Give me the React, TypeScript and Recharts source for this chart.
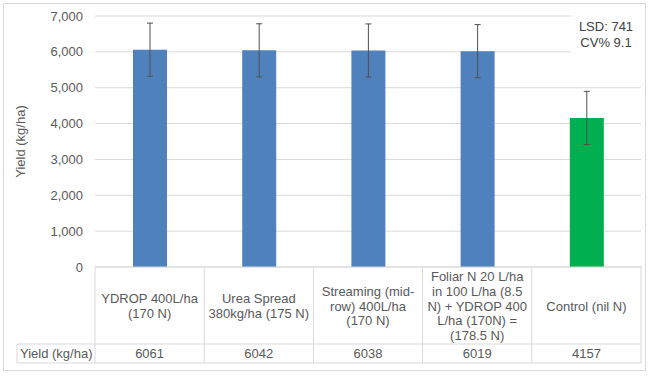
import React from 'react';
import { BarChart, Bar, XAxis, YAxis, CartesianGrid, Cell, ErrorBar } from 'recharts';

const categories = [
  'YDROP 400L/ha\n(170 N)',
  'Urea Spread\n380kg/ha (175 N)',
  'Streaming (mid-\nrow) 400L/ha\n(170 N)',
  'Foliar N 20 L/ha\nin 100 L/ha (8.5\nN) + YDROP 400\nL/ha (170N) =\n(178.5 N)',
  'Control (nil N)',
];
const yields = [6061, 6042, 6038, 6019, 4157];
const errors = [741, 741, 741, 741, 741];
const yTicks = [0, 1000, 2000, 3000, 4000, 5000, 6000, 7000];
const tableHeader = 'Yield (kg/ha)';
const statLines = ['LSD: 741', 'CV% 9.1'];

const barColors = ['#4f81bd', '#4f81bd', '#4f81bd', '#4f81bd', '#00b050'];

const data = categories.map((name, i) => ({ name, yield: yields[i], err: errors[i] }));

// layout
const W = 649;
const H = 377;
const PLOT_LEFT = 95;
const PLOT_RIGHT = 641;
const PLOT_TOP = 16;
const PLOT_BOTTOM = 267;
const ROW1_BOTTOM = 344;
const ROW2_BOTTOM = 363;
const HEADER_LEFT = 17;
const CELL_W = (PLOT_RIGHT - PLOT_LEFT) / categories.length;
const LINE = '#d9d9d9';
const TEXT = '#595959';
const FS = 13;

function TableTick(props: any) {
  const { x, payload, index } = props;
  const left = x - CELL_W / 2;
  const right = x + CELL_W / 2;
  const lines: string[] = String(payload.value).split('\n');
  const lh = 14.6;
  const cy = (PLOT_BOTTOM + ROW1_BOTTOM) / 2 + 0.5;
  const y0 = cy - ((lines.length - 1) * lh) / 2;
  const valY = (ROW1_BOTTOM + ROW2_BOTTOM) / 2;
  return (
    <g>
      {index === 0 && (
        <g>
          <line x1={left} y1={PLOT_BOTTOM} x2={left} y2={ROW2_BOTTOM} stroke={LINE} />
          <line x1={HEADER_LEFT} y1={ROW1_BOTTOM} x2={left} y2={ROW1_BOTTOM} stroke={LINE} />
          <line x1={HEADER_LEFT} y1={ROW2_BOTTOM} x2={left} y2={ROW2_BOTTOM} stroke={LINE} />
          <line x1={HEADER_LEFT} y1={ROW1_BOTTOM} x2={HEADER_LEFT} y2={ROW2_BOTTOM} stroke={LINE} />
          <text x={HEADER_LEFT + 3} y={valY} dominantBaseline="central" fontSize={FS} fill={TEXT}>
            {tableHeader}
          </text>
        </g>
      )}
      <line x1={right} y1={PLOT_BOTTOM} x2={right} y2={ROW2_BOTTOM} stroke={LINE} />
      <line x1={left} y1={ROW1_BOTTOM} x2={right} y2={ROW1_BOTTOM} stroke={LINE} />
      <line x1={left} y1={ROW2_BOTTOM} x2={right} y2={ROW2_BOTTOM} stroke={LINE} />
      {lines.map((l, i) => (
        <text key={i} x={x} y={y0 + i * lh} textAnchor="middle" dominantBaseline="central" fontSize={FS} fill={TEXT}>
          {l}
        </text>
      ))}
      <text x={x} y={valY} textAnchor="middle" dominantBaseline="central" fontSize={FS} fill={TEXT}>
        {yields[index]}
      </text>
    </g>
  );
}

export default function App() {
  return (
    <div style={{ position: 'absolute', left: 0, top: 0, width: W, height: H, background: '#fff', fontFamily: '"Liberation Sans", Arial, sans-serif' }}>
      <div style={{ position: 'absolute', left: 3, top: 3, width: 643, height: 368, border: `1px solid ${LINE}`, boxSizing: 'border-box' }} />
      <div style={{ position: 'absolute', left: 0, top: 0 }}>
        <BarChart
          width={W}
          height={H}
          data={data}
          margin={{ top: PLOT_TOP, right: W - PLOT_RIGHT, left: 0, bottom: H - ROW2_BOTTOM }}
          barCategoryGap={0}
        >
          <CartesianGrid vertical={false} stroke={LINE} />
          <XAxis
            dataKey="name"
            height={ROW2_BOTTOM - PLOT_BOTTOM}
            interval={0}
            tickLine={false}
            axisLine={{ stroke: LINE }}
            tick={<TableTick />}
          />
          <YAxis
            width={PLOT_LEFT}
            domain={[0, 7000]}
            ticks={yTicks}
            axisLine={false}
            tickLine={false}
            tickMargin={6}
            tick={{ fill: TEXT, fontSize: FS }}
            tickFormatter={(v: number) => v.toLocaleString('en-US')}
            label={{ value: 'Yield (kg/ha)', angle: -90, position: 'center', dx: -27, fill: TEXT, fontSize: FS }}
          />
          <Bar dataKey="yield" barSize={34} isAnimationActive={false}>
            {data.map((d, i) => (
              <Cell key={d.name} fill={barColors[i]} />
            ))}
            <ErrorBar dataKey="err" width={3} stroke="#505050" strokeWidth={1} direction="y" />
          </Bar>
        </BarChart>
      </div>
      <div
        style={{
          position: 'absolute',
          left: 571,
          top: 12,
          width: 70,
          height: 48,
          background: '#fff',
          color: '#404040',
          fontSize: FS,
          lineHeight: '16px',
          textAlign: 'center',
          paddingTop: 7,
          boxSizing: 'border-box',
        }}
      >
        {statLines.map((s) => (
          <div key={s}>{s}</div>
        ))}
      </div>
    </div>
  );
}
